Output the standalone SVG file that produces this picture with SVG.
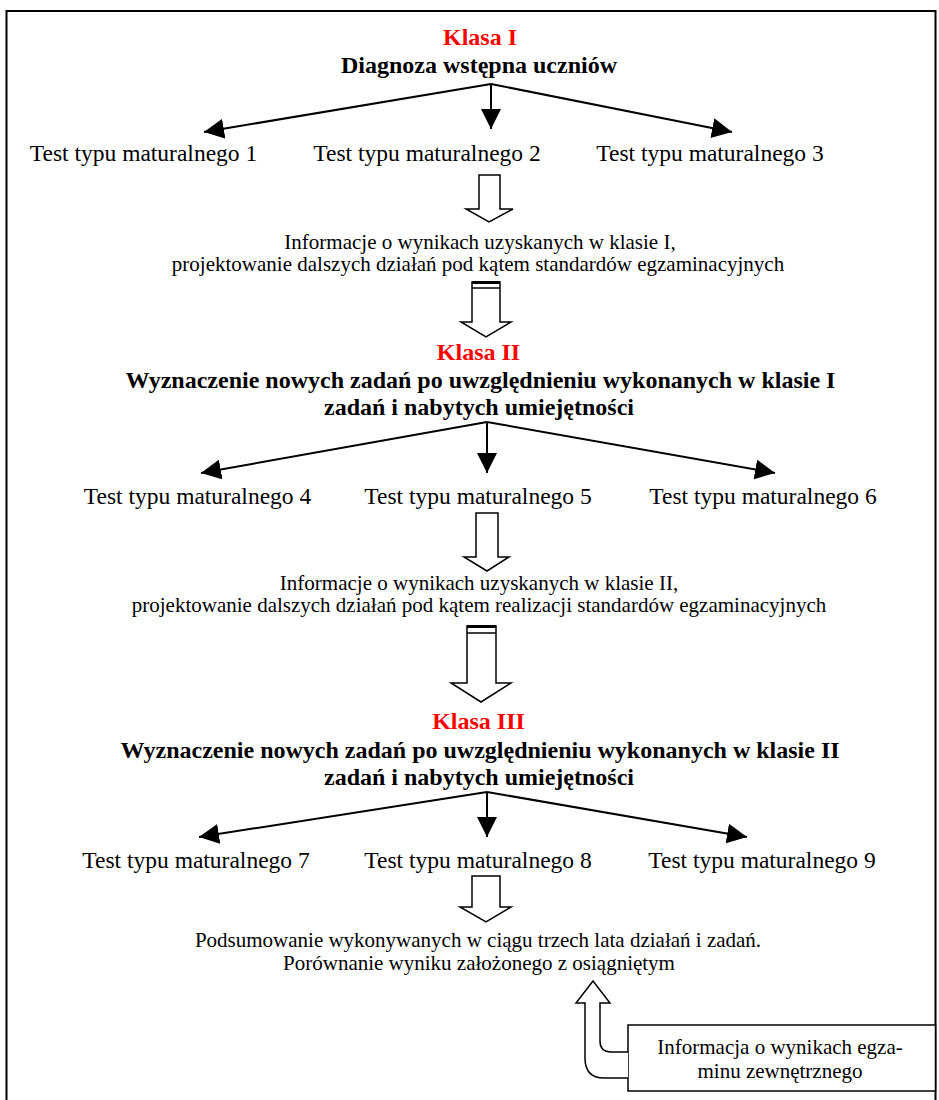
<svg xmlns="http://www.w3.org/2000/svg" width="939" height="1100" viewBox="0 0 939 1100">
  <style>
    text { font-family: "Liberation Serif", "Times New Roman", serif; fill: #000; text-anchor: middle; }
    .klasa { font-size: 24px; font-weight: bold; fill: #ff0000; }
    .head { font-size: 24px; font-weight: bold; }
    .test { font-size: 23.5px; }
    .info { font-size: 21px; }
    .conn { stroke: #000; stroke-width: 2; fill: none; }
    .block { stroke: #000; stroke-width: 1.5; fill: #fff; stroke-linejoin: miter; }
    .bar { stroke: #000; fill: none; }
  </style>
  <defs>
    <marker id="ah" markerUnits="userSpaceOnUse" markerWidth="20" markerHeight="20" refX="20" refY="10" orient="auto" viewBox="0 0 20 20">
      <path d="M0,0 L20,10 L0,20 Z" fill="#000"/>
    </marker>
  </defs>
  <rect x="0" y="0" width="939" height="1100" fill="#fff"/>
  <path d="M6.5,1100 V11 H935.5 V1100" fill="none" stroke="#000" stroke-width="2"/>

  <g id="klasa1">
    <text class="klasa" x="480" y="45">Klasa I</text>
    <text class="head" x="479" y="73">Diagnoza wstępna uczniów</text>
  </g>
  <g id="test1"><text class="test" x="143.5" y="161">Test typu maturalnego 1</text></g>
  <g id="test2"><text class="test" x="427" y="161">Test typu maturalnego 2</text></g>
  <g id="test3"><text class="test" x="710" y="161">Test typu maturalnego 3</text></g>
  <g id="info1">
    <text class="info" x="480" y="249">Informacje o wynikach uzyskanych w klasie I,</text>
    <text class="info" x="478" y="271">projektowanie dalszych działań pod kątem standardów egzaminacyjnych</text>
  </g>
  <g id="klasa2">
    <text class="klasa" x="478.5" y="360">Klasa II</text>
    <text class="head" x="480.5" y="388">Wyznaczenie nowych zadań po uwzględnieniu wykonanych w klasie I</text>
    <text class="head" x="479" y="415">zadań i nabytych umiejętności</text>
  </g>
  <g id="test4"><text class="test" x="197.5" y="504">Test typu maturalnego 4</text></g>
  <g id="test5"><text class="test" x="478" y="504">Test typu maturalnego 5</text></g>
  <g id="test6"><text class="test" x="763" y="504">Test typu maturalnego 6</text></g>
  <g id="info2">
    <text class="info" x="479" y="590">Informacje o wynikach uzyskanych w klasie II,</text>
    <text class="info" x="479" y="612">projektowanie dalszych działań pod kątem realizacji standardów egzaminacyjnych</text>
  </g>
  <g id="klasa3">
    <text class="klasa" x="478.5" y="729">Klasa III</text>
    <text class="head" x="480" y="758">Wyznaczenie nowych zadań po uwzględnieniu wykonanych w klasie II</text>
    <text class="head" x="479" y="785">zadań i nabytych umiejętności</text>
  </g>
  <g id="test7"><text class="test" x="196" y="868">Test typu maturalnego 7</text></g>
  <g id="test8"><text class="test" x="478" y="868">Test typu maturalnego 8</text></g>
  <g id="test9"><text class="test" x="762" y="868">Test typu maturalnego 9</text></g>
  <g id="podsumowanie">
    <text class="info" x="478" y="947">Podsumowanie wykonywanych w ciągu trzech lata działań i zadań.</text>
    <text class="info" x="479" y="970">Porównanie wyniku założonego z osiągniętym</text>
  </g>
  <g id="egzamin">
    <rect x="628" y="1025" width="307.5" height="66" fill="#fff" stroke="#000" stroke-width="1.5"/>
    <text class="info" x="780" y="1054">Informacja o wynikach egza-</text>
    <text class="info" x="780" y="1078">minu zewnętrznego</text>
  </g>

  <g id="connectors">
    <!-- fan-out arrows -->
    <line class="conn" x1="491" y1="84" x2="204" y2="132" marker-end="url(#ah)"/>
    <line class="conn" x1="491" y1="84" x2="491" y2="129" marker-end="url(#ah)"/>
    <line class="conn" x1="491" y1="84" x2="732" y2="132" marker-end="url(#ah)"/>

    <line class="conn" x1="487" y1="422" x2="201" y2="473" marker-end="url(#ah)"/>
    <line class="conn" x1="487" y1="422" x2="487" y2="473" marker-end="url(#ah)"/>
    <line class="conn" x1="487" y1="422" x2="775" y2="473" marker-end="url(#ah)"/>

    <line class="conn" x1="487" y1="792" x2="199" y2="837" marker-end="url(#ah)"/>
    <line class="conn" x1="487" y1="792" x2="487" y2="837" marker-end="url(#ah)"/>
    <line class="conn" x1="487" y1="792" x2="747" y2="837" marker-end="url(#ah)"/>

    <!-- block arrows -->
    <path class="block" d="M479,175 H500 V209 H513 L489,222 L466,209 H479 Z"/>

    <path class="block" d="M472,282 H500 V322 H511 L486,337 L461,322 H472 Z"/>
    <line class="bar" x1="472" y1="282.5" x2="500" y2="282.5" stroke-width="3"/>
    <line class="bar" x1="472" y1="288" x2="500" y2="288" stroke-width="1.5"/>

    <path class="block" d="M476,513 H498 V557 H509 L487,571 L464,557 H476 Z"/>

    <path class="block" d="M467,626 H496 V683 H511 L481,702 L451,683 H467 Z"/>
    <line class="bar" x1="467" y1="626.5" x2="496" y2="626.5" stroke-width="3"/>
    <line class="bar" x1="467" y1="633" x2="496" y2="633" stroke-width="1.5"/>

    <path class="block" d="M472,876 H500 V907 H511 L486,922 L460,907 H472 Z"/>

    <!-- curved up arrow from exam box -->
    <path class="block" d="M628,1052 H611 Q600,1052 600,1041 V1003 H610 L593,981 L576,1003 H585 V1058 Q585,1078 604,1078 H628"/>
  </g>
</svg>
